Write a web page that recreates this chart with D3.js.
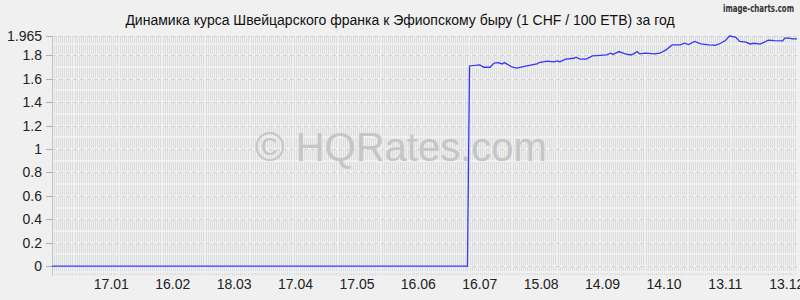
<!DOCTYPE html>
<html><head><meta charset="utf-8">
<script src="https://cdn.jsdelivr.net/npm/d3@7"></script>
<style>html,body{margin:0;padding:0;background:#f0f0f0;} svg{display:block;}</style>
</head><body><svg id="c" width="800" height="300"></svg>
<script>
const title = "Динамика курса Швейцарского франка к Эфиопскому быру (1 CHF / 100 ETB) за год";
const credit = "image-charts.com";
const watermark = "© HQRates.com";
const dates = ["2022-12-19","2023-07-10","2023-07-11","2023-07-16","2023-07-18","2023-07-21","2023-07-23","2023-07-25","2023-07-27","2023-07-28",
"2023-08-01","2023-08-03","2023-08-08","2023-08-13","2023-08-14","2023-08-18","2023-08-21","2023-08-23","2023-08-24","2023-08-27","2023-08-31",
"2023-09-01","2023-09-03","2023-09-06","2023-09-09","2023-09-13","2023-09-16","2023-09-18","2023-09-19","2023-09-22","2023-09-25","2023-09-28",
"2023-10-01","2023-10-02","2023-10-05","2023-10-09","2023-10-12","2023-10-15","2023-10-18","2023-10-22","2023-10-24","2023-10-26","2023-10-29",
"2023-11-01","2023-11-05","2023-11-08","2023-11-10","2023-11-13","2023-11-15","2023-11-18","2023-11-20","2023-11-23","2023-11-25","2023-11-27","2023-11-30",
"2023-12-02","2023-12-04","2023-12-07","2023-12-11","2023-12-12","2023-12-14","2023-12-16","2023-12-18"];
const values = [0,0,1.709,1.718,1.698,1.698,1.733,1.738,1.726,1.738,
1.698,1.690,1.709,1.726,1.738,1.750,1.744,1.752,1.744,1.767,1.775,
1.784,1.767,1.767,1.795,1.800,1.803,1.818,1.806,1.832,1.812,1.803,
1.832,1.812,1.818,1.812,1.818,1.846,1.889,1.889,1.903,1.891,1.918,
1.897,1.890,1.886,1.897,1.926,1.965,1.955,1.918,1.912,1.897,1.903,1.895,
1.912,1.930,1.926,1.923,1.946,1.946,1.940,1.940];
const yTicks = [0,0.2,0.4,0.6,0.8,1,1.2,1.4,1.6,1.8,1.965];
const yTickLabels = ["0","0.2","0.4","0.6","0.8","1","1.2","1.4","1.6","1.8","1.965"];
const xTickDates = ["2023-01-17","2023-02-16","2023-03-18","2023-04-17","2023-05-17","2023-06-16","2023-07-16","2023-08-15","2023-09-14","2023-10-14","2023-11-13","2023-12-13"];
const xDomain = ["2022-12-19","2023-12-18"];

(function () {
const parse = d3.timeParse("%Y-%m-%d");
const fmt = d3.timeFormat("%d.%m");
const svg = d3.select("#c");
const W = 800, H = 300;
const pLeft = 52, pRight = 797, pTop = 36;
const font = "'Liberation Sans', Arial, sans-serif";

const x = d3.scaleTime().domain(xDomain.map(parse)).range([pLeft, pRight]);
const y = d3.scaleLinear().domain([-0.08, 1.965]).range([275.4, pTop]);

svg.append("rect").attr("width", W).attr("height", H).attr("fill", "#f0f0f0");

// grid: daily vertical lines
const g = svg.append("g");
const days = d3.timeDay.range(parse(xDomain[0]), parse(xDomain[1]));
g.selectAll("line.v").data(days).join("line")
  .attr("x1", d => Math.round(x(d)) + 0.5).attr("x2", d => Math.round(x(d)) + 0.5)
  .attr("y1", pTop).attr("y2", y(-0.08))
  .attr("stroke", "#dcdcdc").attr("stroke-width", 1);
// gaps at each 0.1 level
const tenths = d3.range(0, 20).map(i => i / 10).concat([-0.05]);
g.selectAll("rect.gap").data(tenths).join("rect")
  .attr("x", pLeft).attr("width", pRight - pLeft)
  .attr("y", d => Math.round(y(d)) - 1).attr("height", 2)
  .attr("fill", "#f0f0f0");
// dashed horizontal lines at ticks
g.selectAll("line.h").data(yTicks).join("line")
  .attr("x1", pLeft).attr("x2", pRight)
  .attr("y1", d => Math.round(y(d)) + 0.5).attr("y2", d => Math.round(y(d)) + 0.5)
  .attr("stroke", "#d2d2d2").attr("stroke-dasharray", "4,3");

// watermark
svg.append("text").attr("x", 401).attr("y", 161).attr("text-anchor", "middle")
  .attr("font-family", font).attr("font-size", 40).attr("fill", "#c6c6c6").text(watermark);

// y axis
svg.append("line").attr("x1", pLeft + 0.5).attr("x2", pLeft + 0.5).attr("y1", pTop).attr("y2", y(-0.08))
  .attr("stroke", "#c4c4c4");
const yt = svg.append("g");
yt.selectAll("line").data(yTicks).join("line")
  .attr("x1", 46).attr("x2", pLeft)
  .attr("y1", d => Math.round(y(d)) + 0.5).attr("y2", d => Math.round(y(d)) + 0.5)
  .attr("stroke", "#b0b0b0");
yt.selectAll("text").data(yTicks).join("text")
  .attr("x", 42).attr("y", d => y(d) + 5).attr("text-anchor", "end")
  .attr("font-family", font).attr("font-size", 14).attr("fill", "#222")
  .text((d, i) => yTickLabels[i]);

// x labels
svg.append("g").selectAll("text").data(xTickDates.map(parse)).join("text")
  .attr("x", d => x(d)).attr("y", 289).attr("text-anchor", "middle")
  .attr("font-family", font).attr("font-size", 14).attr("fill", "#222")
  .text(d => fmt(d));

// data line
const data = dates.map((d, i) => ({date: parse(d), v: values[i]}));
svg.append("path").datum(data)
  .attr("d", d3.line().x(d => x(d.date)).y(d => y(d.v)))
  .attr("fill", "none").attr("stroke", "#3535ff").attr("stroke-width", 1.3);

// title
svg.append("text").attr("x", 400).attr("y", 25).attr("text-anchor", "middle")
  .attr("font-family", font).attr("font-size", 14).attr("fill", "#111").text(title);
svg.append("text").attr("x", 794).attr("y", 12).attr("text-anchor", "end")
  .attr("font-family", "'DejaVu Sans Condensed', 'DejaVu Sans', sans-serif").attr("font-size", 10)
  .attr("font-weight", "bold").attr("textLength", 71).attr("lengthAdjust", "spacingAndGlyphs")
  .attr("fill", "#333").text(credit);
})();
</script></body></html>
